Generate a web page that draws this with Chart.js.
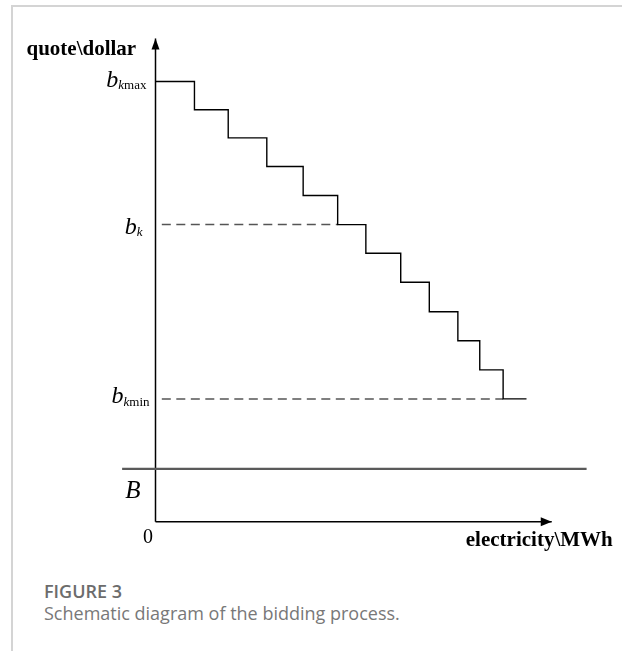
<!DOCTYPE html>
<html>
<head>
<meta charset="utf-8">
<script src="https://cdn.jsdelivr.net/npm/chart.js@4.4.0/dist/chart.umd.min.js"></script>
<style>
  html, body { margin: 0; padding: 0; background: #fff; }
  body { width: 622px; height: 651px; position: relative; overflow: hidden; }
  #frame {
    position: absolute; left: 11px; top: 5px; right: -4px; bottom: -4px;
    border-left: 2px solid #d4d4d4; border-top: 2px solid #d4d4d4;
  }
  #chart-wrap { position: absolute; left: 0; top: 0; width: 622px; height: 570px; }
  .cap {
    position: absolute; left: 44px; font-family: 'Open Sans', sans-serif;
    font-size: 18px; line-height: 24px; color: #787878; white-space: nowrap;
  }
  #fig-no { top: 579px; font-weight: 600; color: #6c6c6c; }
  #fig-text { top: 601px; }
</style>
</head>
<body>
<div id="frame"></div>
<div id="chart-wrap"><canvas id="bidding-chart"></canvas></div>
<div class="cap" id="fig-no">FIGURE 3</div>
<div class="cap" id="fig-text">Schematic diagram of the bidding process.</div>
<script>
// bid curve: electricity where each price block starts, and its quote
const stepQty = [0, 10.5, 19.6, 30, 39.8, 49.1, 56.7, 66.1, 73.8, 81.5, 87.4, 93.7, 100];
const stepQuote = [100, 93.6, 87.2, 80.7, 74.1, 67.5, 61.0, 54.4, 47.7, 41.1, 34.5, 27.9, 27.9];

// reference quotes
const quoteMax = 100;
const quoteK = 67.5;
const quoteMin = 27.9;
const quoteB = 12;

// where the dashed guides start / stop
const dashFrom = 1.7;
const kQty = 49.1;
const minQty = 93.7;

// B line and axis extents
const bLineQty = [-9, 116.2];
const axisQtyEnd = 106.8;
const axisQuoteEnd = 109.8;

const refQuotes = [quoteMax, quoteK, quoteMin];
const refSubs = [['k', 'max'], ['k', ''], ['k', 'min']];

const serif = '"Liberation Serif", "Times New Roman", serif';

function pts(xs, ys) {
  return xs.map((x, i) => ({ x: x, y: ys[i] }));
}

const annotatePlugin = {
  id: 'annotate',
  afterDatasetsDraw(chart) {
    const ctx = chart.ctx;
    const x = chart.scales.x;
    const y = chart.scales.y;
    const ox = x.getPixelForValue(0);
    const oy = y.getPixelForValue(0);
    const tx = x.getPixelForValue(axisQtyEnd);
    const ty = y.getPixelForValue(axisQuoteEnd);

    ctx.save();
    ctx.fillStyle = '#000';

    // arrow heads
    ctx.beginPath();
    ctx.moveTo(ox, ty);
    ctx.lineTo(ox - 4, ty + 11);
    ctx.lineTo(ox + 4, ty + 11);
    ctx.closePath();
    ctx.fill();
    ctx.beginPath();
    ctx.moveTo(tx, oy);
    ctx.lineTo(tx - 11, oy - 4.5);
    ctx.lineTo(tx - 11, oy + 4.5);
    ctx.closePath();
    ctx.fill();

    // axis titles
    ctx.font = 'bold 21px ' + serif;
    ctx.textBaseline = 'alphabetic';
    ctx.textAlign = 'left';
    ctx.fillText('quote\\dollar', ox - 129, ty + 17);
    ctx.textAlign = 'right';
    ctx.fillText('electricity\\MWh', tx + 61, oy + 24.5);

    // origin
    ctx.font = '20px ' + serif;
    ctx.textAlign = 'center';
    ctx.textBaseline = 'middle';
    ctx.fillText('0', ox - 7.5, oy + 16);

    // B
    ctx.font = 'italic 25px ' + serif;
    ctx.fillText('B', ox - 22.5, y.getPixelForValue(quoteB) + 22.5);

    // b_k labels
    const rightGap = [9, 13, 6];
    const drop = [5, 9, 4.5];
    ctx.textAlign = 'left';
    ctx.textBaseline = 'alphabetic';
    refQuotes.forEach((q, i) => {
      const py = y.getPixelForValue(q) + drop[i];
      ctx.font = 'italic 13px ' + serif;
      const kW = ctx.measureText(refSubs[i][0]).width;
      ctx.font = '13px ' + serif;
      const restW = ctx.measureText(refSubs[i][1]).width;
      ctx.font = 'italic 24px ' + serif;
      const bW = ctx.measureText('b').width;
      let left = ox - rightGap[i] - restW - kW - bW;
      ctx.fillText('b', left, py);
      left += bW;
      ctx.font = 'italic 13px ' + serif;
      ctx.fillText(refSubs[i][0], left, py + 2.6);
      left += kW;
      ctx.font = '13px ' + serif;
      ctx.fillText(refSubs[i][1], left, py + 2.6);
    });
    ctx.restore();
  }
};

const lineBase = { pointRadius: 0, fill: false, tension: 0 };

new Chart(document.getElementById('bidding-chart'), {
  type: 'line',
  data: {
    datasets: [
      Object.assign({}, lineBase, {
        label: 'bid',
        data: pts(stepQty, stepQuote),
        stepped: true,
        borderColor: '#000',
        borderWidth: 1.4,
      }),
      Object.assign({}, lineBase, {
        label: 'bk',
        data: pts([dashFrom, kQty], [quoteK, quoteK]),
        borderColor: '#555',
        borderWidth: 1.5,
        borderDash: [9, 5.5],
      }),
      Object.assign({}, lineBase, {
        label: 'bkmin',
        data: pts([dashFrom, minQty], [quoteMin, quoteMin]),
        borderColor: '#555',
        borderWidth: 1.5,
        borderDash: [9, 5.5],
      }),
      Object.assign({}, lineBase, {
        label: 'B',
        data: pts(bLineQty, [quoteB, quoteB]),
        borderColor: '#5a5a5a',
        borderWidth: 2.2,
      }),
      Object.assign({}, lineBase, {
        label: 'y axis',
        data: pts([0, 0], [0, axisQuoteEnd]),
        borderColor: '#000',
        borderWidth: 1.5,
      }),
      Object.assign({}, lineBase, {
        label: 'x axis',
        data: pts([0, axisQtyEnd], [0, 0]),
        borderColor: '#000',
        borderWidth: 1.5,
      }),
    ],
  },
  options: {
    responsive: true,
    maintainAspectRatio: false,
    animation: false,
    layout: { padding: { left: 118.4, right: 21.3, top: 28.7, bottom: 26.3 } },
    plugins: { legend: { display: false }, tooltip: { enabled: false } },
    scales: {
      x: { type: 'linear', min: -10, max: 120, display: false },
      y: { type: 'linear', min: -5, max: 112, display: false },
    },
  },
  plugins: [annotatePlugin],
});
</script>
</body>
</html>
